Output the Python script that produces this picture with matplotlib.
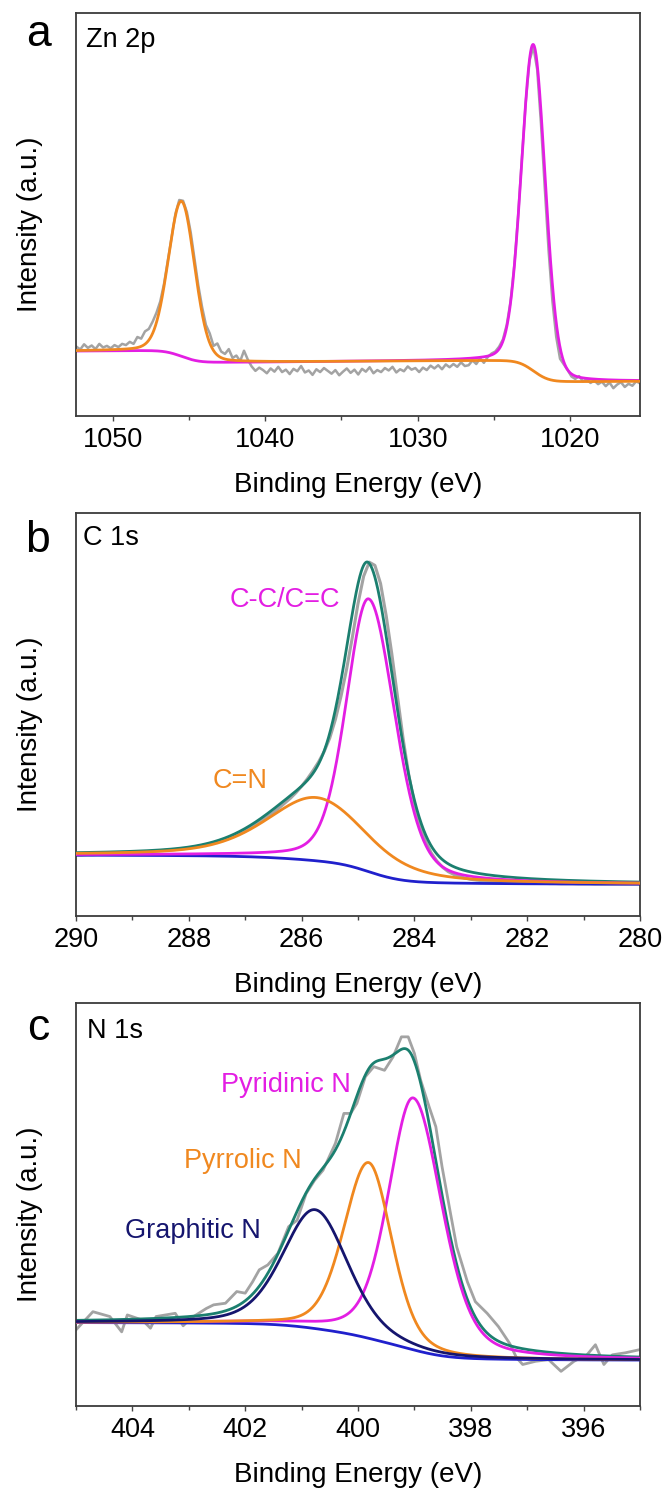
import numpy as np
import matplotlib
matplotlib.use("Agg")
import matplotlib.pyplot as plt
from matplotlib.ticker import MultipleLocator, NullLocator

plt.rcParams['font.family'] = ['Liberation Sans', 'DejaVu Sans']

GRAY = '#a3a3a3'
ORANGE = '#f0881f'
MAGENTA = '#e31ee3'
TEAL = '#1b7f6f'
BLUE = '#2020cc'
NAVY = '#15156e'

# ---------------- Zn 2p ----------------
zn_start, zn_step = 1052.4, 0.25
zn_counts = [
    17.2, 16.5, 17.8, 16.9, 17.5, 16.6, 17.9, 17.0, 17.4, 16.8, 17.6, 17.1, 17.9,
    17.6, 18.4, 17.9, 19.6, 19.2, 21.0, 21.6, 23.4, 25.6, 28.4, 32.8, 38.6, 44.5,
    50.2, 53.6, 53.4, 50.6, 45.6, 39.0, 32.4, 27.0, 22.6, 20.5, 17.4, 18.0, 16.0,
    15.4, 16.6, 14.4, 15.0, 13.6, 16.2, 14.0,
    12.3, 11.2, 12.0, 11.4, 10.6, 11.8, 11.0, 12.2, 10.9, 11.5, 10.4, 11.7, 11.1,
    12.4, 10.8, 11.3, 10.2, 11.6, 10.9, 11.9, 11.2, 10.5, 11.4, 10.1, 11.0, 11.8,
    10.7, 11.5, 10.3, 11.7, 11.0, 12.1, 10.6, 11.4, 10.9, 11.9, 11.3, 12.2, 10.8,
    11.6, 11.1, 12.3, 11.5, 11.9, 10.9, 12.0, 11.4, 12.5, 11.8, 12.6, 11.6, 12.8,
    12.1, 12.9, 12.2, 13.3, 12.4,
    12.6, 13.8, 12.9, 14.3, 13.2, 14.6, 15.5, 16.0, 17.2, 19.0, 22.6, 28.4, 37.5,
    49.8, 64.2, 78.0, 88.2, 91.6,
    86.0, 72.5, 56.5, 41.0, 28.5, 19.6, 14.2, 12.8, 11.4, 9.8, 9.2, 9.9,
    8.6, 9.1, 8.2, 8.8, 7.9, 8.5, 7.4, 8.3, 6.9, 7.8, 8.4, 7.2, 8.0, 7.5, 8.6, 8.1,
]
zn_centers = [1045.5, 1022.4]      # 2p1/2, 2p3/2
zn_fwhm = [2.05, 1.85]
zn_heights = [38.5, 81.0]
zn_eta = 0.15
zn_bg_low = 8.1
zn_bg_steps = [3.2, 5.6]
zn_bg_tilt = -0.035

# ---------------- C 1s ----------------
c_start, c_step = 290.0, 0.1
c_counts = [
    15.1, 15.1, 15.2, 15.2, 15.3, 15.3, 15.4, 15.4, 15.5, 15.6,
    15.7, 15.8, 15.9, 16.0, 16.1, 16.2, 16.3, 16.4, 16.55, 16.7, 16.9,
    17.1, 17.4, 17.7, 18.0, 18.4, 18.8, 19.4, 20.0, 20.6, 21.2,
    22.0, 22.9, 23.8, 24.7, 25.7, 26.8, 28.0, 29.2, 30.6,
    32.2, 34.0, 36.0, 38.2, 40.8, 44.2, 48.8, 54.6, 61.4, 69.2,
    77.5, 84.3, 87.8, 87.0, 82.5, 74.5, 65.0, 54.5, 44.0, 35.0,
    28.0, 22.5, 18.5, 15.6, 13.6, 12.1, 11.0,
    10.3, 9.8, 9.4, 9.1, 8.9, 8.75, 8.6, 8.5, 8.45, 8.4,
    8.35, 8.3, 8.25, 8.2, 8.15, 8.1, 8.1, 8.05, 8.05, 8.0,
    8.0, 8.0, 7.95, 7.95, 7.95, 7.9, 7.9, 7.9, 7.9, 7.9,
    7.9, 7.9, 7.9, 7.9,
]
c_names = ['C=N', 'C-C/C=C']
c_centers = [285.74, 284.81]
c_hw_high = [1.05, 0.47]
c_hw_low = [1.05, 0.55]
c_heights = [15.7, 67.7]
c_eta = [0.5, 0.3]
c_bg_low, c_bg_step = 7.9, 7.2

# ---------------- N 1s ----------------
n_energy = [
    405.00, 404.70, 404.40, 404.19, 404.09, 403.82, 403.68, 403.58, 403.41, 403.24,
    403.10, 402.96, 402.69, 402.56, 402.35, 402.15, 402.00, 401.87, 401.75, 401.60,
    401.42, 401.23, 401.08, 400.92, 400.77, 400.62, 400.40, 400.25, 400.13, 400.02,
    399.87, 399.72, 399.53, 399.38, 399.23, 399.11, 399.00, 398.89, 398.74, 398.62,
    398.51, 398.36, 398.25, 398.06, 397.92, 397.71, 397.51, 397.31, 397.19, 397.08,
    396.85, 396.62, 396.40, 396.17, 395.94, 395.79, 395.64, 395.49, 395.26, 395.00,
]
n_counts = [
    18.9, 23.4, 22.2, 18.4, 22.6, 21.3, 19.3, 22.2, 22.6, 23.0,
    19.9, 21.8, 24.2, 25.1, 25.5, 28.4, 28.0, 30.8, 33.8, 35.0,
    37.9, 44.5, 46.1, 52.7, 56.0, 58.5, 65.2, 72.6, 72.6, 75.1,
    81.7, 84.2, 83.3, 86.6, 91.6, 91.6, 87.5, 80.9, 74.3, 69.3,
    59.4, 47.8, 39.5, 30.8, 25.9, 23.0, 19.7, 15.5, 12.0, 10.3,
    11.1, 11.5, 8.6, 11.1, 12.7, 15.2, 10.3, 12.7, 13.2, 14.0,
]
n_names = ['Graphitic N', 'Pyrrolic N', 'Pyridinic N']
n_centers = [400.76, 399.81, 399.02]
n_hw_high = [0.68, 0.52, 0.52]
n_hw_low = [0.68, 0.48, 0.60]
n_heights = [29.5, 43.6, 62.5]
n_eta = [0.35, 0.3, 0.35]
n_bg_low, n_bg_step = 11.4, 9.3


def pvoigt(x, center, hw_low, hw_high, height, eta):
    hw = np.where(x >= center, hw_high, hw_low)
    u = ((x - center) / hw) ** 2
    return height * ((1 - eta) * np.exp(-np.log(2) * u) + eta / (1 + u))


def shirley_fraction(comp):
    # x runs from high to low binding energy; accumulate from the low-BE end
    cum = np.cumsum(comp[::-1])[::-1]
    return cum / cum[0]


def style_axes(ax, xlim, major, minor):
    ax.set_xlim(*xlim)
    ax.set_ylim(0, 100)
    ax.xaxis.set_major_locator(MultipleLocator(major))
    ax.xaxis.set_minor_locator(MultipleLocator(minor))
    ax.yaxis.set_major_locator(NullLocator())
    ax.yaxis.set_minor_locator(NullLocator())
    ax.tick_params(axis='x', which='major', direction='out', length=3.6,
                   width=1.0, color='#444444', labelsize=19.5, pad=4)
    ax.tick_params(axis='x', which='minor', direction='out', length=3.0,
                   width=1.0, color='#444444')
    for sp in ax.spines.values():
        sp.set_color('#3c3c3c')
        sp.set_linewidth(1.3)


W, H = 667, 1490
fig = plt.figure(figsize=(W / 100, H / 100), dpi=100)


def add_axes(top, bottom, left=76, right=640):
    return fig.add_axes([left / W, 1 - bottom / H, (right - left) / W, (bottom - top) / H])


LW = 2.0

# ---- panel a ----
ax = add_axes(13, 416)
xa = np.linspace(1052.43, 1015.4, 2000)
pk = [pvoigt(xa, c, f / 2, f / 2, h, zn_eta) for c, f, h in zip(zn_centers, zn_fwhm, zn_heights)]
bg_a = zn_bg_low + zn_bg_tilt * (xa - 1030)
for p, d in zip(pk, zn_bg_steps):
    bg_a = bg_a + d * shirley_fraction(p)
xa_raw = zn_start - zn_step * np.arange(len(zn_counts))
ax.plot(xa_raw, zn_counts, color=GRAY, lw=1.8, zorder=1)
ax.plot(xa, bg_a + pk[1], color=MAGENTA, lw=LW, zorder=2)
ax.plot(xa, bg_a + pk[0], color=ORANGE, lw=LW, zorder=3)
style_axes(ax, (1052.43, 1015.4), 10, 5)
ax.text(0.0177, 1 - 34 / 403, 'Zn 2p', transform=ax.transAxes, fontsize=19.5,
        ha='left', va='baseline')

# ---- panel b ----
ax = add_axes(513, 916)
xb = np.linspace(290, 280, 2000)
pk = [pvoigt(xb, c, lo, hi, h, e) for c, lo, hi, h, e in
      zip(c_centers, c_hw_low, c_hw_high, c_heights, c_eta)]
bg_b = c_bg_low + c_bg_step * shirley_fraction(pk[0] + pk[1])
xb_raw = c_start - c_step * np.arange(len(c_counts))
ax.plot(xb_raw, c_counts, color=GRAY, lw=2.2, zorder=1)
ax.plot(xb, bg_b, color=BLUE, lw=LW, zorder=2)
ax.plot(xb, bg_b + pk[0] + pk[1], color=TEAL, lw=LW, zorder=3)
ax.plot(xb, bg_b + pk[1], color=MAGENTA, lw=LW, zorder=4)
ax.plot(xb, bg_b + pk[0], color=ORANGE, lw=LW, zorder=5)
style_axes(ax, (290, 280), 2, 1)
ax.text(0.0124, 1 - 32 / 403, 'C 1s', transform=ax.transAxes, fontsize=19.5,
        ha='left', va='baseline')
ax.text(286.29, 76.7, c_names[1], color=MAGENTA, fontsize=19.5, ha='center', va='baseline')
ax.text(287.09, 31.8, c_names[0], color=ORANGE, fontsize=19.5, ha='center', va='baseline')

# ---- panel c ----
ax = add_axes(1003, 1406)
xc = np.linspace(405, 395, 2000)
pk = [pvoigt(xc, c, lo, hi, h, e) for c, lo, hi, h, e in
      zip(n_centers, n_hw_low, n_hw_high, n_heights, n_eta)]
bg_c = n_bg_low + n_bg_step * shirley_fraction(pk[0] + pk[1] + pk[2])
ax.plot(n_energy, n_counts, color=GRAY, lw=2.0, zorder=1)
ax.plot(xc, bg_c + pk[0] + pk[1] + pk[2], color=TEAL, lw=LW, zorder=2)
ax.plot(xc, bg_c, color=BLUE, lw=LW, zorder=3)
ax.plot(xc, bg_c + pk[2], color=MAGENTA, lw=LW, zorder=4)
ax.plot(xc, bg_c + pk[1], color=ORANGE, lw=LW, zorder=5)
ax.plot(xc, bg_c + pk[0], color=NAVY, lw=LW, zorder=6)
style_axes(ax, (405, 395), 2, 1)
ax.text(0.0195, 1 - 35 / 403, 'N 1s', transform=ax.transAxes, fontsize=19.5,
        ha='left', va='baseline')
ax.text(401.28, 77.9, n_names[2], color=MAGENTA, fontsize=19.5, ha='center', va='baseline')
ax.text(402.04, 59.1, n_names[1], color=ORANGE, fontsize=19.5, ha='center', va='baseline')
ax.text(402.92, 41.7, n_names[0], color=NAVY, fontsize=19.5, ha='center', va='baseline')

# shared labels
for letter, base_y, ax_bottom, ax_top in [('a', 46, 416, 13), ('b', 552, 916, 513),
                                          ('c', 1040, 1406, 1003)]:
    fig.text(38 / W, 1 - base_y / H, letter, fontsize=32, ha='center', va='baseline')
    fig.text(358 / W, 1 - (ax_bottom + 69) / H, 'Binding Energy (eV)', fontsize=20,
             ha='center', va='center')
    fig.text(30 / W, 1 - ((ax_top + ax_bottom) / 2 + 10) / H, 'Intensity (a.u.)',
             fontsize=20, rotation=90, ha='center', va='center')

fig.savefig('out.png', dpi=100)
